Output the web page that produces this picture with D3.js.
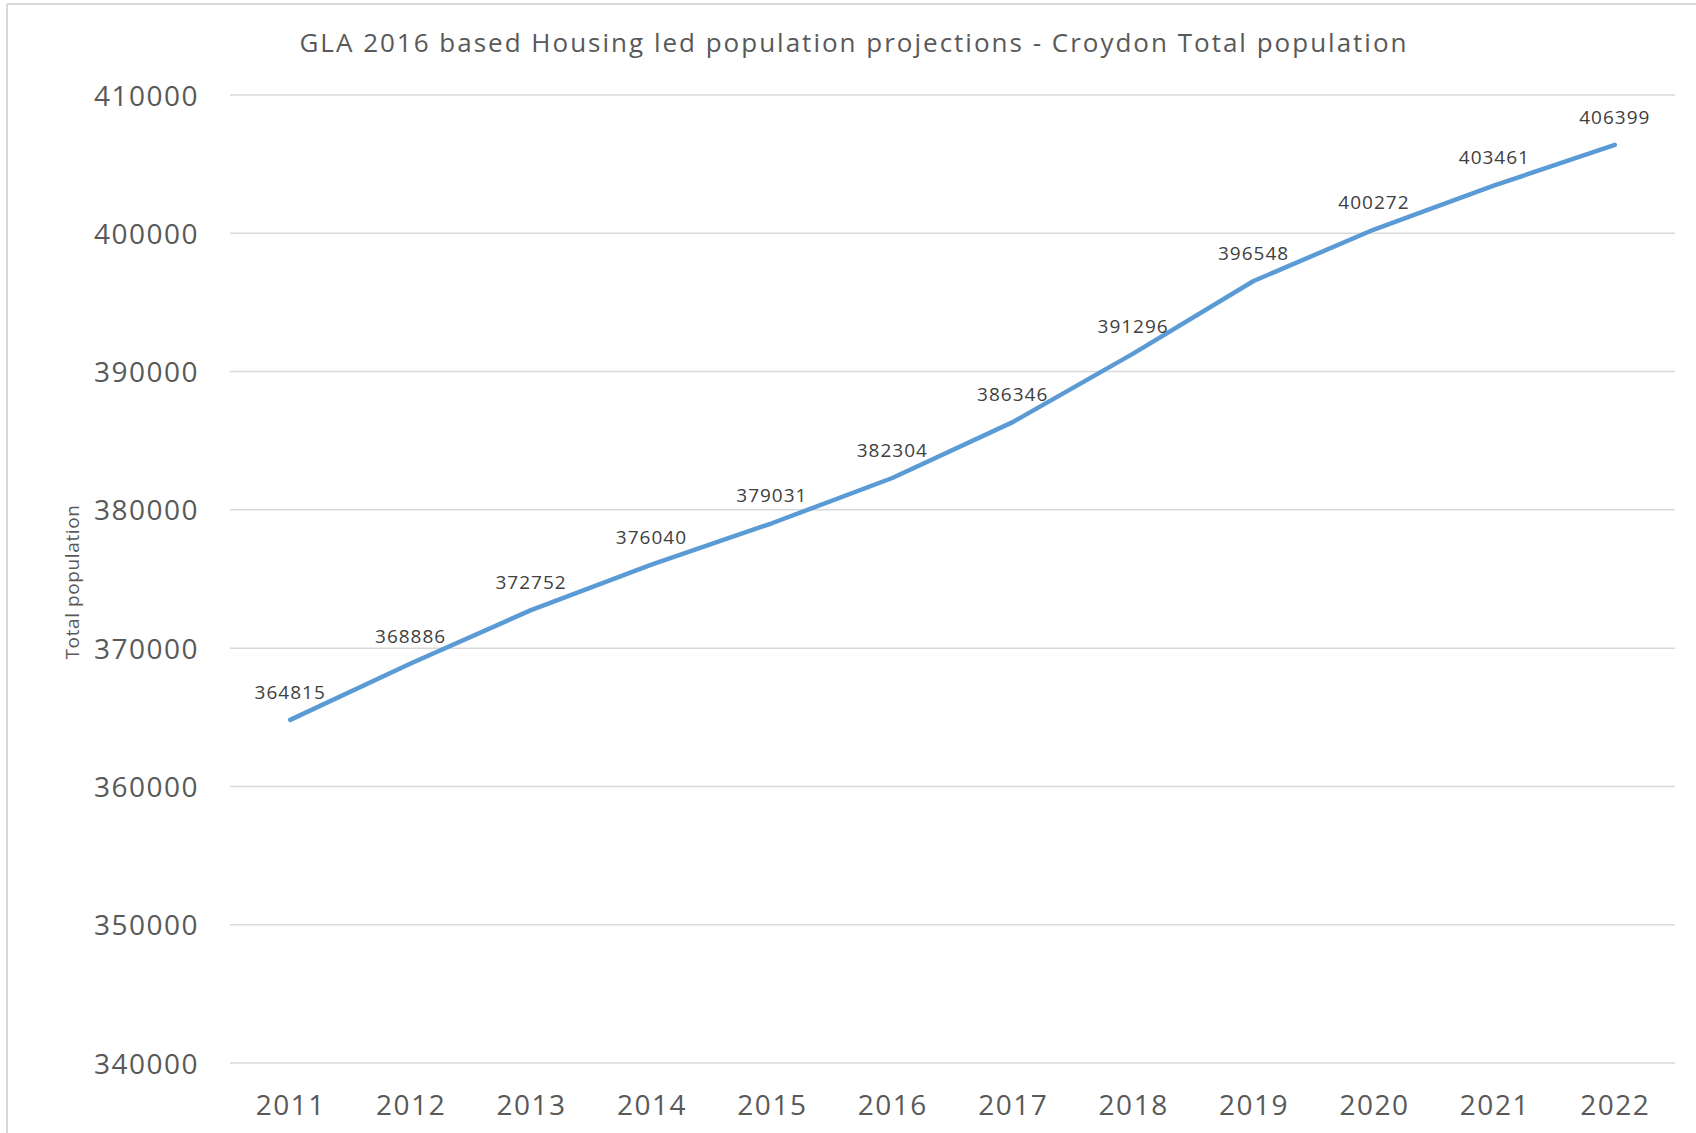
<!DOCTYPE html>
<html>
<head>
<meta charset="utf-8">
<script src="https://cdn.jsdelivr.net/npm/d3@7"></script>
<style>
  body { margin: 0; background: #fff; }
  text { font-family: "Open Sans", "Noto Sans", sans-serif; }
</style>
</head>
<body>
<div id="main"></div>
<script>
// data
var years = ["2011", "2012", "2013", "2014", "2015", "2016", "2017", "2018", "2019", "2020", "2021", "2022"];
var population = [364815, 368886, 372752, 376040, 379031, 382304, 386346, 391296, 396548, 400272, 403461, 406399];
var yTicks = [340000, 350000, 360000, 370000, 380000, 390000, 400000, 410000];
var chartTitle = "GLA 2016 based Housing led population projections - Croydon Total population";
var yTitle = "Total population";

var W = 1696, H = 1133;
var margin = {top: 95, right: 21, bottom: 70, left: 230},
    width = W - margin.left - margin.right,
    height = H - margin.top - margin.bottom;

var root = d3.select("#main")
  .append("svg")
    .attr("width", W)
    .attr("height", H);

// chart frame (cropped on right/bottom)
root.append("line")
  .attr("x1", 7).attr("y1", 4).attr("x2", W).attr("y2", 4)
  .style("stroke", "#d9d9d9").style("stroke-width", 2);
root.append("line")
  .attr("x1", 7).attr("y1", 4).attr("x2", 7).attr("y2", H)
  .style("stroke", "#d9d9d9").style("stroke-width", 2);

// title
root.append("text")
  .attr("x", 854)
  .attr("y", 52)
  .style("text-anchor", "middle")
  .style("font-size", "26px")
  .style("letter-spacing", "2px")
  .style("fill", "#595959")
  .text(chartTitle);

var svg = root.append("g")
  .attr("transform", "translate(" + margin.left + "," + margin.top + ")");

var xScale = d3.scalePoint()
  .domain(years)
  .range([0, width])
  .padding(0.5);

var yScale = d3.scaleLinear()
  .domain([340000, 410000])
  .range([height, 0]);

// gridlines
svg.append("g")
  .selectAll("line")
  .data(yTicks)
  .enter()
  .append("line")
    .attr("x1", 0)
    .attr("x2", width)
    .attr("y1", function(d) { return yScale(d); })
    .attr("y2", function(d) { return yScale(d); })
    .style("stroke", "#d9d9d9")
    .style("stroke-width", 1.5);

// Y axis
var yAxis = svg.append("g")
  .call(d3.axisLeft(yScale).tickValues(yTicks).tickSize(0).tickPadding(31).tickFormat(d3.format("d")));
yAxis.select(".domain").remove();
yAxis.selectAll("text")
  .style("font-size", "28px")
  .style("letter-spacing", "1.5px")
  .style("fill", "#595959")
  .attr("dy", "0.36em");

// X axis
var xAxis = svg.append("g")
  .attr("transform", "translate(0," + height + ")")
  .call(d3.axisBottom(xScale).tickSize(0).tickPadding(32));
xAxis.select(".domain").remove();
xAxis.selectAll("text")
  .style("font-size", "28px")
  .style("letter-spacing", "1.5px")
  .style("fill", "#595959")
  .attr("dy", "0.71em");

// Y axis label
root.append("text")
  .attr("transform", "translate(72," + 582 + ") rotate(-90)")
  .attr("dy", "0.35em")
  .style("text-anchor", "middle")
  .style("font-size", "19px")
  .style("letter-spacing", "0.6px")
  .style("fill", "#595959")
  .text(yTitle);

// line
var series = years.map(function(y, i) { return {year: y, value: population[i]}; });

svg.append("path")
  .datum(series)
  .attr("fill", "none")
  .attr("stroke", "#5b9bd5")
  .attr("stroke-width", 4.5)
  .attr("stroke-linecap", "round")
  .attr("stroke-linejoin", "round")
  .attr("d", d3.line()
    .x(function(d) { return xScale(d.year); })
    .y(function(d) { return yScale(d.value); }));

// data labels
svg.selectAll(".lbl")
  .data(series)
  .enter()
  .append("text")
    .attr("class", "lbl")
    .attr("x", function(d) { return xScale(d.year); })
    .attr("y", function(d) { return yScale(d.value) - 21; })
    .style("text-anchor", "middle")
    .style("font-size", "19px")
    .style("letter-spacing", "1px")
    .style("fill", "#404040")
    .text(function(d) { return d.value; });
</script>
</body>
</html>
